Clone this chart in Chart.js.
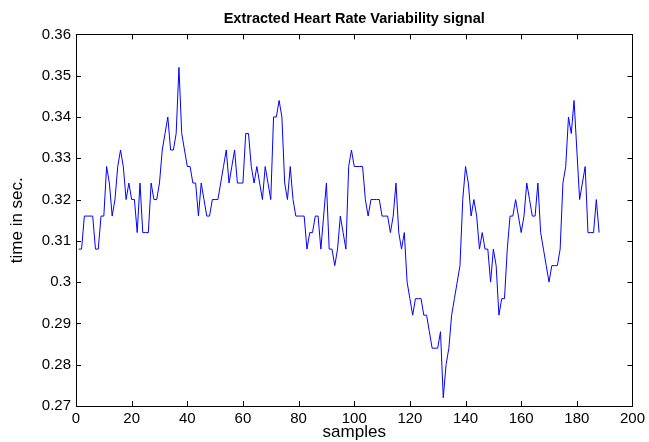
<!DOCTYPE html>
<html>
<head>
<meta charset="utf-8">
<script src="https://cdn.jsdelivr.net/npm/chart.js@4/dist/chart.umd.min.js"></script>
<style>
  html, body { margin: 0; padding: 0; background: #fff; }
  #hrv-chart { display: block; }
</style>
</head>
<body>
<canvas id="hrv-chart" width="649" height="442"></canvas>
<script>
// RR interval per sample (seconds)
const rrIntervals = [
  0.308, 0.308, 0.316, 0.316, 0.316, 0.316, 0.308, 0.308, 0.316, 0.316,
  0.328, 0.324, 0.316, 0.320, 0.328, 0.332, 0.328, 0.320, 0.324, 0.320,
  0.320, 0.312, 0.324, 0.312, 0.312, 0.312, 0.324, 0.320, 0.320, 0.324,
  0.332, 0.336, 0.340, 0.332, 0.332, 0.336, 0.352, 0.336, 0.332, 0.328,
  0.328, 0.324, 0.324, 0.316, 0.324, 0.320, 0.316, 0.316, 0.320, 0.320,
  0.320, 0.324, 0.328, 0.332, 0.324, 0.328, 0.332, 0.324, 0.324, 0.324,
  0.336, 0.336, 0.328, 0.324, 0.328, 0.324, 0.320, 0.328, 0.324, 0.320,
  0.340, 0.340, 0.344, 0.340, 0.324, 0.320, 0.328, 0.320, 0.316, 0.316,
  0.316, 0.316, 0.308, 0.312, 0.312, 0.316, 0.316, 0.308, 0.316, 0.324,
  0.308, 0.308, 0.304, 0.308, 0.316, 0.312, 0.308, 0.328, 0.332, 0.328,
  0.328, 0.328, 0.328, 0.320, 0.316, 0.320, 0.320, 0.320, 0.320, 0.316,
  0.316, 0.316, 0.312, 0.316, 0.324, 0.312, 0.308, 0.312, 0.300, 0.296,
  0.292, 0.296, 0.296, 0.296, 0.292, 0.292, 0.288, 0.284, 0.284, 0.284,
  0.288, 0.272, 0.280, 0.284, 0.292, 0.296, 0.300, 0.304, 0.320, 0.328,
  0.324, 0.316, 0.320, 0.316, 0.308, 0.312, 0.308, 0.308, 0.300, 0.308,
  0.304, 0.292, 0.296, 0.296, 0.308, 0.316, 0.316, 0.320, 0.316, 0.312,
  0.316, 0.324, 0.320, 0.316, 0.316, 0.324, 0.312, 0.308, 0.304, 0.300,
  0.304, 0.304, 0.304, 0.308, 0.324, 0.328, 0.340, 0.336, 0.344, 0.332,
  0.320, 0.324, 0.328, 0.312, 0.312, 0.312, 0.320, 0.312
];

const xTicks = [0, 20, 40, 60, 80, 100, 120, 140, 160, 180, 200];
const yTicks = [0.27, 0.28, 0.29, 0.30, 0.31, 0.32, 0.33, 0.34, 0.35, 0.36];
const yTickLabels = ['0.27', '0.28', '0.29', '0.3', '0.31', '0.32', '0.33', '0.34', '0.35', '0.36'];

const FONT = "'Liberation Sans', Arial, sans-serif";
Chart.defaults.font.family = FONT;
Chart.defaults.color = '#000';

// matlab style box with inward ticks on all four sides
const boxTicks = {
  id: 'boxTicks',
  afterDatasetsDraw(chart) {
    const { ctx, chartArea: a, scales: { x, y } } = chart;
    const len = 5;
    ctx.save();
    ctx.strokeStyle = '#000';
    ctx.lineWidth = 1;
    ctx.beginPath();
    x.ticks.forEach(t => {
      const px = Math.round(x.getPixelForValue(t.value)) + 0.5;
      ctx.moveTo(px, a.bottom); ctx.lineTo(px, a.bottom - len);
      ctx.moveTo(px, a.top); ctx.lineTo(px, a.top + len);
    });
    y.ticks.forEach(t => {
      const py = Math.round(y.getPixelForValue(t.value)) + 0.5;
      ctx.moveTo(a.left, py); ctx.lineTo(a.left + len, py);
      ctx.moveTo(a.right, py); ctx.lineTo(a.right - len, py);
    });
    ctx.stroke();
    ctx.strokeRect(Math.round(a.left) + 0.5, Math.round(a.top) + 0.5,
      Math.round(a.right - a.left), Math.round(a.bottom - a.top));
    ctx.restore();
  }
};

function addHrvChart() {
  const ctx = document.getElementById('hrv-chart');
  if (!ctx) {
    return;
  }

  const points = rrIntervals.map((v, i) => ({ x: i + 1, y: v }));

  new Chart(ctx, {
    type: 'line',
    data: {
      datasets: [{
        data: points,
        borderColor: 'rgb(0, 0, 255)',
        borderWidth: 1,
        pointRadius: 0,
        tension: 0,
        fill: false
      }]
    },
    plugins: [boxTicks],
    options: {
      responsive: false,
      animation: false,
      devicePixelRatio: 1,
      layout: {
        padding: { left: 0, right: 16, top: 0, bottom: 0 }
      },
      plugins: {
        legend: { display: false },
        tooltip: { enabled: false },
        title: {
          display: true,
          fullSize: false,
          text: 'Extracted Heart Rate Variability signal',
          font: { size: 14.5, weight: 'bold' },
          padding: { top: 10, bottom: 7 }
        }
      },
      scales: {
        x: {
          type: 'linear',
          min: 0,
          max: 200,
          afterBuildTicks: scale => { scale.ticks = xTicks.map(v => ({ value: v })); },
          afterFit: scale => { scale.height = 36; },
          grid: { display: false, drawTicks: false },
          border: { display: false },
          ticks: {
            font: { size: 15 },
            padding: 4,
            maxRotation: 0,
            callback: v => String(v)
          },
          title: {
            display: true,
            text: 'samples',
            font: { size: 17 },
            padding: { top: 0, bottom: -1 }
          }
        },
        y: {
          min: 0.27,
          max: 0.36,
          afterBuildTicks: scale => { scale.ticks = yTicks.map(v => ({ value: v })); },
          afterFit: scale => { scale.width = 76; },
          grid: { display: false, drawTicks: false },
          border: { display: false },
          ticks: {
            font: { size: 15 },
            padding: 5,
            callback: (v, i) => yTickLabels[i]
          },
          title: {
            display: true,
            text: 'time in sec.',
            font: { size: 17 },
            padding: { top: 7, bottom: 0 }
          }
        }
      }
    }
  });
}

addHrvChart();
</script>
</body>
</html>
